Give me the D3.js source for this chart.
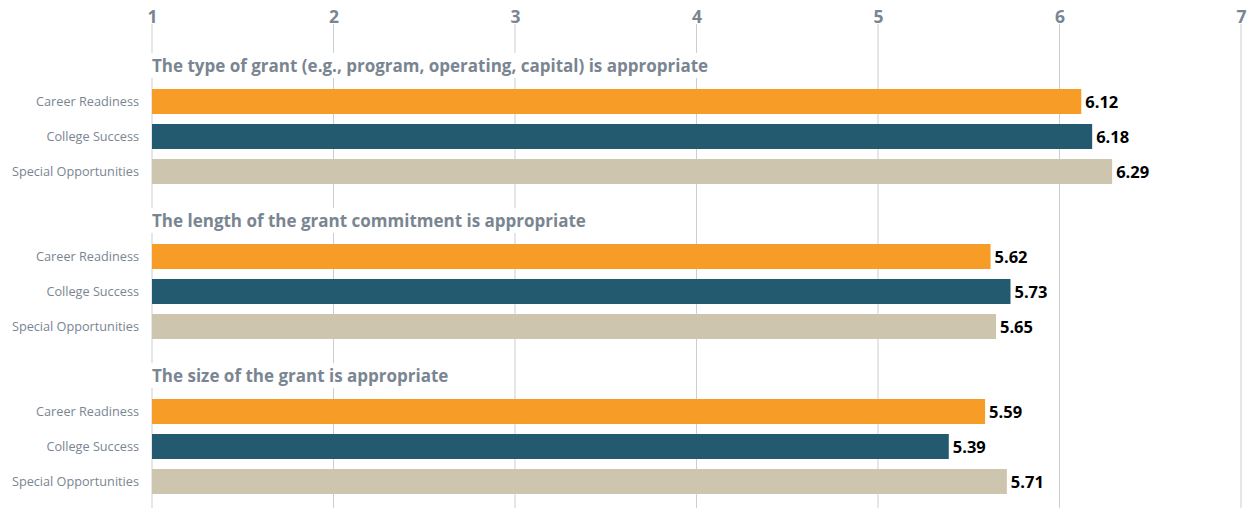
<!DOCTYPE html>
<html>
<head>
<meta charset="utf-8">
<script src="https://cdn.jsdelivr.net/npm/d3@7"></script>
<style>
  html, body { margin: 0; padding: 0; background: #fff; }
  svg { display: block; font-family: "Open Sans", sans-serif; }
</style>
</head>
<body>
<svg id="chart" width="1249" height="508"></svg>
<script>
// Survey statements (one group each)
const statements = [
  "The type of grant (e.g., program, operating, capital) is appropriate",
  "The length of the grant commitment is appropriate",
  "The size of the grant is appropriate"
];
// Grant program categories
const programs = ["Career Readiness", "College Success", "Special Opportunities"];
// Mean rating per statement, in the order of `programs`
const typeScores = [6.12, 6.18, 6.29];
const lengthScores = [5.62, 5.73, 5.65];
const sizeScores = [5.59, 5.39, 5.71];
// Axis ticks (1–7 scale)
const tickValues = [1, 2, 3, 4, 5, 6, 7];

const scoreRows = [typeScores, lengthScores, sizeScores];
const colors = ["#f79c26", "#245a70", "#cdc5ae"];

const svg = d3.select("#chart");
const W = 1249, H = 508;

const x = d3.scaleLinear().domain([1, 7]).range([152, 1241]);
const yGroup = d3.scaleBand().domain(statements).range([45, 45 + 155 * 3]);
const yBar = d3.scaleBand().domain(programs)
  .range([44, 44 + 35 * 3 - 10]).paddingInner(10 / 35).paddingOuter(0);
const color = d3.scaleOrdinal().domain(programs).range(colors);

// Top axis: tick labels + vertical grid lines
const axisY = 24;
const axis = svg.append("g").attr("transform", `translate(0,${axisY})`)
  .call(d3.axisTop(x).tickValues(tickValues).tickFormat(d3.format("d")).tickSize(0).tickPadding(1));
axis.select(".domain").remove();
axis.selectAll("text")
  .attr("fill", "#7a8592")
  .style("font-size", "17.5px")
  .style("font-weight", "700")
  .style("font-family", "'Open Sans', sans-serif");

svg.append("g").selectAll("line").data(tickValues).join("line")
  .attr("x1", d => x(d)).attr("x2", d => x(d))
  .attr("y1", axisY).attr("y2", H)
  .attr("stroke", "#c9ced5").attr("stroke-width", 1);

const groups = svg.append("g").selectAll("g").data(statements).join("g")
  .attr("transform", d => `translate(0,${yGroup(d)})`);

// Statement titles with a white backing so grid lines break behind them
groups.each(function(d) {
  const g = d3.select(this);
  const t = g.append("text")
    .attr("x", x(1)).attr("y", 21).attr("dy", "0.35em")
    .attr("fill", "#7a8592")
    .style("font-size", "17px").style("font-weight", "700")
    .text(d);
  const bb = t.node().getBBox();
  g.insert("rect", "text")
    .attr("x", bb.x - 2).attr("y", bb.y - 1)
    .attr("width", bb.width + 4).attr("height", bb.height + 2)
    .attr("fill", "#fff");
});

groups.each(function(d, gi) {
  const g = d3.select(this);
  const rows = programs.map((p, i) => ({ program: p, value: scoreRows[gi][i] }));

  g.selectAll("rect.bar").data(rows).join("rect")
    .attr("class", "bar")
    .attr("x", x(1))
    .attr("y", r => yBar(r.program))
    .attr("width", r => x(r.value) - x(1))
    .attr("height", yBar.bandwidth())
    .attr("fill", r => color(r.program));

  g.selectAll("text.cat").data(rows).join("text")
    .attr("class", "cat")
    .attr("x", 139)
    .attr("y", r => yBar(r.program) + yBar.bandwidth() / 2)
    .attr("dy", "0.35em")
    .attr("text-anchor", "end")
    .attr("fill", "#7a8592")
    .style("font-size", "12.7px")
    .text(r => r.program);

  g.selectAll("text.val").data(rows).join("text")
    .attr("class", "val")
    .attr("x", r => x(r.value) + 4)
    .attr("y", r => yBar(r.program) + yBar.bandwidth() / 2 + 1)
    .attr("dy", "0.35em")
    .attr("fill", "#000")
    .style("font-size", "16.5px").style("font-weight", "700")
    .text(r => r.value.toFixed(2));
});
</script>
</body>
</html>
